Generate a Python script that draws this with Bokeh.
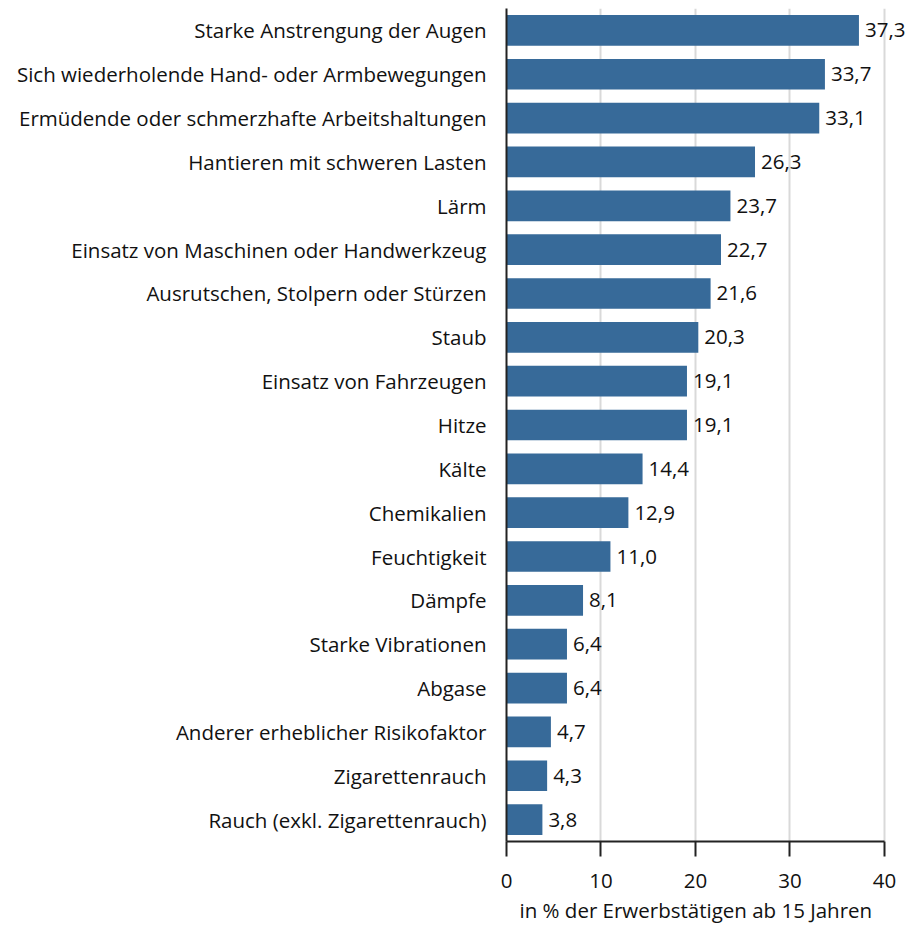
from bokeh.plotting import figure
from bokeh.models import FactorRange, ColumnDataSource, Range1d, FixedTicker, LabelSet, Title
from bokeh.core.properties import value
from bokeh.embed import file_html
from bokeh.resources import INLINE

categories = [
    "Starke Anstrengung der Augen",
    "Sich wiederholende Hand- oder Armbewegungen",
    "Ermüdende oder schmerzhafte Arbeitshaltungen",
    "Hantieren mit schweren Lasten",
    "Lärm",
    "Einsatz von Maschinen oder Handwerkzeug",
    "Ausrutschen, Stolpern oder Stürzen",
    "Staub",
    "Einsatz von Fahrzeugen",
    "Hitze",
    "Kälte",
    "Chemikalien",
    "Feuchtigkeit",
    "Dämpfe",
    "Starke Vibrationen",
    "Abgase",
    "Anderer erheblicher Risikofaktor",
    "Zigarettenrauch",
    "Rauch (exkl. Zigarettenrauch)",
]
values = [37.3, 33.7, 33.1, 26.3, 23.7, 22.7, 21.6, 20.3, 19.1, 19.1,
          14.4, 12.9, 11.0, 8.1, 6.4, 6.4, 4.7, 4.3, 3.8]
x_ticks = [0, 10, 20, 30, 40]
x_title = "in % der Erwerbstätigen ab 15 Jahren"

FONT = "Open Sans"
FS = "20.5px"
BAR = "#376a99"
TXT = "#111111"

labels = [f"{v:.1f}".replace(".", ",") for v in values]
src = ColumnDataSource(dict(cat=categories, val=values, lab=labels))

p = figure(
    width=909, height=926,
    y_range=FactorRange(*reversed(categories), range_padding=0),
    x_range=Range1d(0, 42.65),
    output_backend="svg", toolbar_location=None,
    min_border_left=506, min_border_right=0, min_border_top=8, min_border_bottom=0,
)
p.hbar(y="cat", right="val", left=0, height=0.7, source=src, color=BAR, line_color=None)

lbl = LabelSet(x="val", y="cat", text="lab", source=src, x_offset=6, y_offset=0,
               text_baseline="middle", text_align="left",
               text_font=value(FONT), text_font_size=FS, text_color=TXT)
p.add_layout(lbl)

p.outline_line_color = None
p.ygrid.grid_line_color = None
p.xgrid.grid_line_color = "#d9d9d9"
p.xgrid.grid_line_width = 2
p.xaxis.ticker = FixedTicker(ticks=x_ticks)
p.xaxis.bounds = (0, 40)
p.xaxis.major_label_text_font = FONT
p.xaxis.major_label_text_font_size = FS
p.xaxis.major_label_text_color = TXT
p.xaxis.major_label_standoff = 17
p.xaxis.axis_line_color = "#222222"
p.xaxis.axis_line_width = 2
p.xaxis.major_tick_line_color = "#222222"
p.xaxis.major_tick_line_width = 2
p.xaxis.major_tick_out = 15
p.xaxis.major_tick_in = 0
p.xaxis.minor_tick_line_color = None

p.add_layout(Title(text=x_title, align="left", offset=13, standoff=6,
                   text_font=FONT, text_font_size=FS, text_font_style="normal",
                   text_color=TXT), "below")

p.yaxis.axis_line_color = "#222222"
p.yaxis.axis_line_width = 2
p.yaxis.major_tick_line_color = None
p.yaxis.minor_tick_line_color = None
p.yaxis.major_label_text_font = FONT
p.yaxis.major_label_text_font_size = FS
p.yaxis.major_label_text_color = TXT
p.yaxis.major_label_standoff = 14

open("out.html", "w").write(file_html(p, INLINE))
